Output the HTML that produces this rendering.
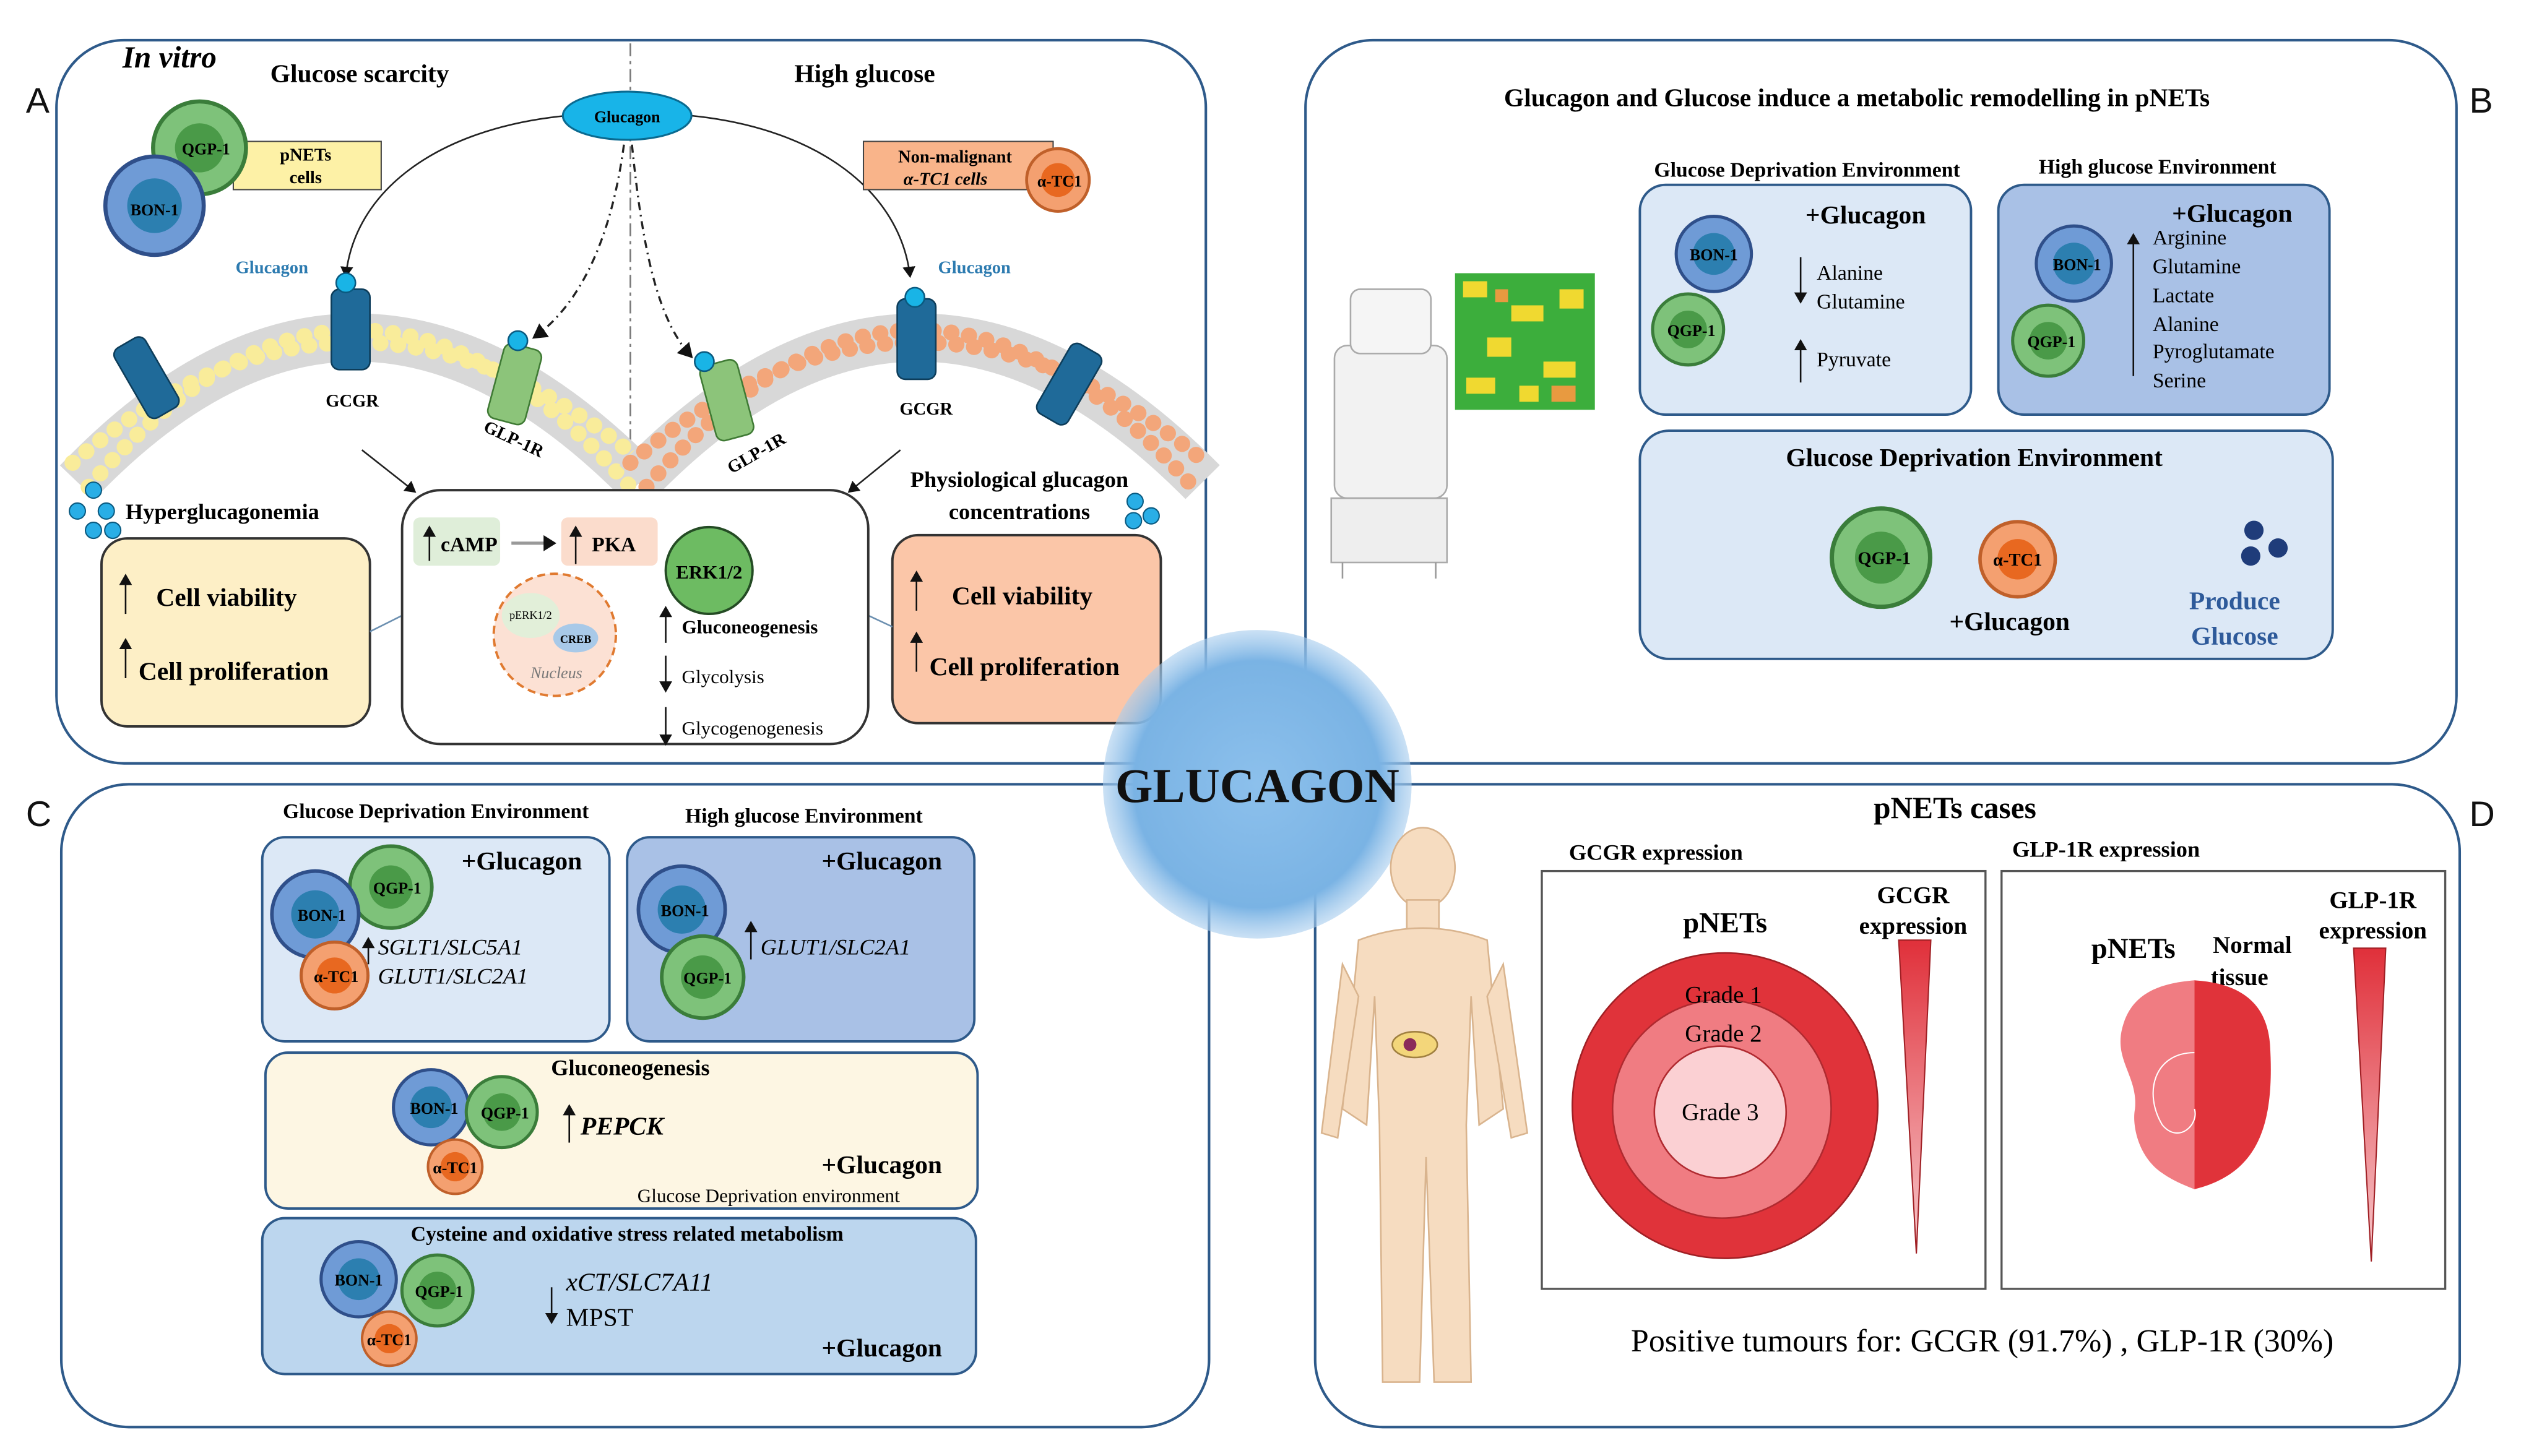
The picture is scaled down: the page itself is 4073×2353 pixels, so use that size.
<!DOCTYPE html>
<html><head><meta charset="utf-8"><style>
html,body{margin:0;padding:0;background:#fff;}
svg{display:block;}
text{font-family:"Liberation Serif",serif;}
.b{font-weight:bold;}
</style></head><body>
<svg width="4073" height="2353" viewBox="0 0 1568 906" xmlns="http://www.w3.org/2000/svg">
<defs>
<radialGradient id="cg" cx="50%" cy="50%" r="50%"><stop offset="0" stop-color="#8cc0ec"/><stop offset="0.8" stop-color="#7ab3e4"/><stop offset="1" stop-color="#a8cdee" stop-opacity="0.6"/></radialGradient>
<marker id="ar" markerWidth="8" markerHeight="8" refX="6" refY="4" orient="auto"><path d="M0,0 L7,4 L0,8z" fill="#111"/></marker>
<linearGradient id="tr" x1="0" y1="0" x2="0" y2="1"><stop offset="0" stop-color="#e0303a"/><stop offset="1" stop-color="#f7c9cc"/></linearGradient>
<g id="cg1"><circle r="17" fill="#7ec27a" stroke="#3a7d3a" stroke-width="1.5"/><circle r="9" fill="#4a9a48"/></g>
<g id="cb1"><circle r="18" fill="#6f9bd6" stroke="#2f4f8a" stroke-width="1.5"/><circle r="10" fill="#2c7fb0"/></g>
<g id="co1"><circle r="13" fill="#f4a070" stroke="#c0602a" stroke-width="1.2"/><circle r="7" fill="#e86820"/></g>
</defs>
<rect width="1568" height="906" fill="#fff"/>

<!-- Panels -->
<g fill="none" stroke="#2e5a8a" stroke-width="1.6">
<rect x="35" y="25" width="715" height="450" rx="42"/>
<rect x="812" y="25" width="716" height="450" rx="42"/>
<rect x="38" y="488" width="714" height="400" rx="42"/>
<rect x="818" y="488" width="712" height="400" rx="42"/>
</g>
<g font-family="Liberation Sans,sans-serif" font-size="22" fill="#111">
<text x="16" y="70" style="font-family:'Liberation Sans',sans-serif">A</text>
<text x="1536" y="70" style="font-family:'Liberation Sans',sans-serif">B</text>
<text x="16" y="514" style="font-family:'Liberation Sans',sans-serif">C</text>
<text x="1536" y="514" style="font-family:'Liberation Sans',sans-serif">D</text>
</g>

<!-- Panel A -->
<text x="76" y="42" class="b" font-size="19" font-style="italic">In vitro</text>
<text x="168" y="51" class="b" font-size="16">Glucose scarcity</text>
<text x="494" y="51" class="b" font-size="16">High glucose</text>
<line x1="392" y1="27" x2="392" y2="300" stroke="#777" stroke-width="1" stroke-dasharray="8,3,2,3"/>
<path d="M352,72 C270,80 220,120 215,172" fill="none" stroke="#222" stroke-width="1" marker-end="url(#ar)"/>
<path d="M430,72 C510,80 560,120 566,172" fill="none" stroke="#222" stroke-width="1" marker-end="url(#ar)"/>
<path d="M388,90 C380,150 360,190 332,210" fill="none" stroke="#222" stroke-width="1.3" stroke-dasharray="5,3,1,3" marker-end="url(#ar)"/>
<path d="M393,90 C400,160 410,200 430,222" fill="none" stroke="#222" stroke-width="1.3" stroke-dasharray="5,3,1,3" marker-end="url(#ar)"/>
<ellipse cx="390" cy="72" rx="40" ry="15" fill="#18b4e8" stroke="#0a6a90" stroke-width="1.2"/>
<text x="390" y="76" font-size="10" text-anchor="middle" class="b">Glucagon</text>

<!-- membranes -->
<path d="M48,300 Q220,120 398,300" fill="none" stroke="#d8d8d8" stroke-width="30"/>
<path d="M55,303 Q220,108 392,303" fill="none" stroke="#f9ec9a" stroke-width="10" stroke-dasharray="0.1,11" stroke-linecap="round" style="stroke-width:10"/>
<path d="M45,288 Q220,138 400,288" fill="none" stroke="#f9ec9a" stroke-width="10" stroke-dasharray="0.1,11" stroke-linecap="round"/>
<path d="M396,300 Q570,120 748,300" fill="none" stroke="#d8d8d8" stroke-width="30"/>
<path d="M402,303 Q570,108 742,303" fill="none" stroke="#f3a67a" stroke-width="10" stroke-dasharray="0.1,11" stroke-linecap="round"/>
<path d="M392,288 Q570,138 750,288" fill="none" stroke="#f3a67a" stroke-width="10" stroke-dasharray="0.1,11" stroke-linecap="round"/>
<!-- receptors -->
<g fill="#1f6a99" stroke="#0d3d5a" stroke-width="1">
<rect x="80" y="210" width="22" height="50" rx="5" transform="rotate(-30 91 235)"/>
<rect x="206" y="180" width="24" height="50" rx="5"/>
<rect x="558" y="186" width="24" height="50" rx="5"/>
<rect x="654" y="214" width="22" height="50" rx="5" transform="rotate(30 665 239)"/>
</g>
<g fill="#8cc47a" stroke="#3f7a34" stroke-width="1">
<rect x="308" y="215" width="24" height="48" rx="5" transform="rotate(15 320 239)"/>
<rect x="440" y="225" width="24" height="48" rx="5" transform="rotate(-15 452 249)"/>
</g>
<g fill="#19b4e6" stroke="#0a5a80"><circle cx="215" cy="176" r="6"/><circle cx="322" cy="212" r="6"/><circle cx="438" cy="225" r="6"/><circle cx="569" cy="185" r="6"/></g>
<text x="169" y="170" font-size="11" fill="#2d7bb0" class="b" text-anchor="middle">Glucagon</text>
<text x="606" y="170" font-size="11" fill="#2d7bb0" class="b" text-anchor="middle">Glucagon</text>
<text x="219" y="253" font-size="11" class="b" text-anchor="middle">GCGR</text>
<text x="576" y="258" font-size="11" class="b" text-anchor="middle">GCGR</text>
<text x="300" y="268" font-size="11" class="b" transform="rotate(25 300 268)">GLP-1R</text>
<text x="455" y="295" font-size="11" class="b" transform="rotate(-30 455 295)">GLP-1R</text>

<!-- cells top-left -->
<rect x="145" y="88" width="92" height="30" fill="#fdf1a6" stroke="#444" stroke-width="0.8"/>
<text x="190" y="100" font-size="11" class="b" text-anchor="middle">pNETs</text>
<text x="190" y="114" font-size="11" class="b" text-anchor="middle">cells</text>
<g transform="translate(124,92) scale(1.7)"><use href="#cg1"/></g>
<text x="128" y="96" font-size="10" class="b" text-anchor="middle">QGP-1</text>
<g transform="translate(96,128) scale(1.7)"><use href="#cb1"/></g>
<text x="96" y="134" font-size="10" class="b" text-anchor="middle">BON-1</text>
<rect x="537" y="88" width="118" height="30" fill="#f9b48a" stroke="#444" stroke-width="0.8"/>
<text x="594" y="101" font-size="11" class="b" text-anchor="middle">Non-malignant</text>
<text x="588" y="115" font-size="11" class="b" text-anchor="middle" font-style="italic">α-TC1 cells</text>
<g transform="translate(658,112) scale(1.5)"><use href="#co1"/></g>
<text x="659" y="116" font-size="10" class="b" text-anchor="middle">α-TC1</text>

<!-- dots -->
<g fill="#29aee6" stroke="#0a5a80" stroke-width="0.8"><circle cx="58" cy="305" r="5"/><circle cx="48" cy="318" r="5"/><circle cx="66" cy="318" r="5"/><circle cx="58" cy="330" r="5"/><circle cx="70" cy="330" r="5"/><circle cx="706" cy="312" r="5"/><circle cx="716" cy="321" r="5"/><circle cx="705" cy="324" r="5"/></g>
<text x="78" y="323" font-size="14" class="b">Hyperglucagonemia</text>
<text x="634" y="303" font-size="14" class="b" text-anchor="middle">Physiological glucagon</text>
<text x="634" y="323" font-size="14" class="b" text-anchor="middle">concentrations</text>
<line x1="225" y1="280" x2="258" y2="306" stroke="#222" stroke-width="1" marker-end="url(#ar)"/>
<line x1="560" y1="280" x2="528" y2="306" stroke="#222" stroke-width="1" marker-end="url(#ar)"/>

<rect x="63" y="335" width="167" height="117" rx="16" fill="#fdefc6" stroke="#333" stroke-width="1.5"/>
<line x1="78" y1="382" x2="78" y2="358" stroke="#111" stroke-width="1" marker-end="url(#ar)"/>
<text x="97" y="377" font-size="16" class="b">Cell viability</text>
<line x1="78" y1="422" x2="78" y2="398" stroke="#111" stroke-width="1" marker-end="url(#ar)"/>
<text x="86" y="423" font-size="16" class="b">Cell proliferation</text>
<line x1="230" y1="393" x2="250" y2="383" stroke="#6b8fb0"/>
<rect x="555" y="333" width="167" height="117" rx="16" fill="#fbc6a8" stroke="#333" stroke-width="1.5"/>
<line x1="570" y1="380" x2="570" y2="356" stroke="#111" stroke-width="1" marker-end="url(#ar)"/>
<text x="592" y="376" font-size="16" class="b">Cell viability</text>
<line x1="570" y1="418" x2="570" y2="394" stroke="#111" stroke-width="1" marker-end="url(#ar)"/>
<text x="578" y="420" font-size="16" class="b">Cell proliferation</text>
<line x1="540" y1="383" x2="555" y2="390" stroke="#6b8fb0"/>

<rect x="250" y="305" width="290" height="158" rx="24" fill="#fff" stroke="#333" stroke-width="1.5"/>
<rect x="257" y="322" width="54" height="30" rx="4" fill="#dfeed9"/>
<line x1="267" y1="349" x2="267" y2="328" stroke="#111" marker-end="url(#ar)"/>
<text x="274" y="343" font-size="13" class="b">cAMP</text>
<line x1="318" y1="338" x2="340" y2="338" stroke="#999" stroke-width="2"/><path d="M338,333 L346,338 L338,343z" fill="#111"/>
<rect x="349" y="322" width="60" height="30" rx="4" fill="#fbdccc"/>
<line x1="358" y1="351" x2="358" y2="328" stroke="#111" marker-end="url(#ar)"/>
<text x="368" y="343" font-size="13" class="b">PKA</text>
<circle cx="441" cy="355" r="27" fill="#6dbb62" stroke="#244b24" stroke-width="1.5" transform="translate(0,0)"/>
<text x="441" y="360" font-size="12" class="b" text-anchor="middle">ERK1/2</text>
<ellipse cx="345" cy="395" rx="38" ry="38" fill="#fce1d4" stroke="#e07a30" stroke-width="1.5" stroke-dasharray="5,3"/>
<ellipse cx="330" cy="383" rx="18" ry="14" fill="#e2efd9"/>
<text x="330" y="385" font-size="7" text-anchor="middle">pERK1/2</text>
<ellipse cx="358" cy="397" rx="14" ry="9" fill="#a8c9e8"/>
<text x="358" y="400" font-size="7" class="b" text-anchor="middle">CREB</text>
<text x="346" y="422" font-size="10" font-style="italic" fill="#777" text-anchor="middle">Nucleus</text>
<line x1="414" y1="400" x2="414" y2="378" stroke="#111" marker-end="url(#ar)"/>
<line x1="414" y1="408" x2="414" y2="430" stroke="#111" marker-end="url(#ar)"/>
<line x1="414" y1="440" x2="414" y2="463" stroke="#111" marker-end="url(#ar)"/>
<text x="424" y="394" font-size="12" class="b">Gluconeogenesis</text>
<text x="424" y="425" font-size="12">Glycolysis</text>
<text x="424" y="457" font-size="12">Glycogenogenesis</text>

<!-- Panel B -->
<text x="1155" y="66" font-size="16" class="b" text-anchor="middle">Glucagon and Glucose induce a metabolic remodelling in pNETs</text>
<text x="1124" y="110" font-size="13" class="b" text-anchor="middle">Glucose Deprivation Environment</text>
<text x="1342" y="108" font-size="13" class="b" text-anchor="middle">High glucose Environment</text>
<rect x="1020" y="115" width="206" height="143" rx="16" fill="#dce8f6" stroke="#2e5a8a" stroke-width="1.5"/>
<rect x="1243" y="115" width="206" height="143" rx="16" fill="#a9c1e6" stroke="#2e5a8a" stroke-width="1.5"/>
<rect x="1020" y="268" width="431" height="142" rx="18" fill="#dce8f6" stroke="#2e5a8a" stroke-width="1.5"/>
<text x="1123" y="139" font-size="16" class="b">+Glucagon</text>
<g transform="translate(1066,158) scale(1.3)"><use href="#cb1"/></g><text x="1066" y="162" font-size="10" class="b" text-anchor="middle">BON-1</text>
<g transform="translate(1050,205) scale(1.3)"><use href="#cg1"/></g><text x="1052" y="209" font-size="10" class="b" text-anchor="middle">QGP-1</text>
<line x1="1120" y1="160" x2="1120" y2="188" stroke="#111" marker-end="url(#ar)"/>
<text x="1130" y="174" font-size="13">Alanine</text>
<text x="1130" y="192" font-size="13">Glutamine</text>
<line x1="1120" y1="238" x2="1120" y2="212" stroke="#111" marker-end="url(#ar)"/>
<text x="1130" y="228" font-size="13">Pyruvate</text>
<text x="1351" y="138" font-size="16" class="b">+Glucagon</text>
<g transform="translate(1290,164) scale(1.3)"><use href="#cb1"/></g><text x="1292" y="168" font-size="10" class="b" text-anchor="middle">BON-1</text>
<g transform="translate(1274,212) scale(1.3)"><use href="#cg1"/></g><text x="1276" y="216" font-size="10" class="b" text-anchor="middle">QGP-1</text>
<line x1="1327" y1="234" x2="1327" y2="146" stroke="#111" marker-end="url(#ar)"/>
<g font-size="13"><text x="1339" y="152">Arginine</text><text x="1339" y="170">Glutamine</text><text x="1339" y="188">Lactate</text><text x="1339" y="206">Alanine</text><text x="1339" y="223">Pyroglutamate</text><text x="1339" y="241">Serine</text></g>
<text x="1228" y="290" font-size="16" class="b" text-anchor="middle">Glucose Deprivation Environment</text>
<g transform="translate(1170,347) scale(1.8)"><use href="#cg1"/></g><text x="1172" y="351" font-size="11" class="b" text-anchor="middle">QGP-1</text>
<g transform="translate(1255,348) scale(1.8)"><use href="#co1"/></g><text x="1255" y="352" font-size="11" class="b" text-anchor="middle">α-TC1</text>
<text x="1250" y="392" font-size="16" class="b" text-anchor="middle">+Glucagon</text>
<g fill="#1f3c7a"><circle cx="1402" cy="330" r="6"/><circle cx="1400" cy="346" r="6"/><circle cx="1417" cy="341" r="6"/></g>
<text x="1390" y="379" font-size="16" class="b" fill="#2e5a9a" text-anchor="middle">Produce</text>
<text x="1390" y="401" font-size="16" class="b" fill="#2e5a9a" text-anchor="middle">Glucose</text>
<!-- machine -->
<rect x="830" y="215" width="70" height="95" rx="8" fill="#f2f2f2" stroke="#aaa"/>
<rect x="840" y="180" width="50" height="40" rx="6" fill="#f5f5f5" stroke="#aaa"/>
<rect x="828" y="310" width="72" height="40" fill="#eee" stroke="#aaa"/>
<g stroke="#999"><line x1="835" y1="350" x2="835" y2="360"/><line x1="893" y1="350" x2="893" y2="360"/></g>
<rect x="905" y="170" width="87" height="85" fill="#3cae3c"/>
<g fill="#f0d930"><rect x="910" y="175" width="15" height="10"/><rect x="940" y="190" width="20" height="10"/><rect x="925" y="210" width="15" height="12"/><rect x="960" y="225" width="20" height="10"/><rect x="970" y="180" width="15" height="12"/><rect x="912" y="235" width="18" height="10"/><rect x="945" y="240" width="12" height="10"/></g>
<g fill="#e89a40"><rect x="965" y="240" width="15" height="10"/><rect x="930" y="180" width="8" height="8"/></g>

<!-- Central circle -->
<circle cx="782" cy="488" r="96" fill="url(#cg)"/>
<text x="782" y="499" font-size="30" class="b" text-anchor="middle" fill="#111">GLUCAGON</text>

<!-- Panel C -->
<text x="271" y="509" font-size="13" class="b" text-anchor="middle">Glucose Deprivation Environment</text>
<text x="500" y="512" font-size="13" class="b" text-anchor="middle">High glucose Environment</text>
<rect x="163" y="521" width="216" height="127" rx="14" fill="#dce8f6" stroke="#2e5a8a" stroke-width="1.5"/>
<rect x="390" y="521" width="216" height="127" rx="14" fill="#a9c1e6" stroke="#2e5a8a" stroke-width="1.5"/>
<rect x="165" y="655" width="443" height="97" rx="14" fill="#fdf6e3" stroke="#2e5a8a" stroke-width="1.5"/>
<rect x="163" y="758" width="444" height="97" rx="14" fill="#bcd6ee" stroke="#2e5a8a" stroke-width="1.5"/>
<text x="287" y="541" font-size="16" class="b">+Glucagon</text>
<g transform="translate(243,552) scale(1.5)"><use href="#cg1"/></g><text x="247" y="556" font-size="10" class="b" text-anchor="middle">QGP-1</text>
<g transform="translate(196,569) scale(1.5)"><use href="#cb1"/></g><text x="200" y="573" font-size="10" class="b" text-anchor="middle">BON-1</text>
<g transform="translate(208,607) scale(1.6)"><use href="#co1"/></g><text x="209" y="611" font-size="10" class="b" text-anchor="middle">α-TC1</text>
<line x1="229" y1="600" x2="229" y2="584" stroke="#111" marker-end="url(#ar)"/>
<text x="235" y="594" font-size="14" font-style="italic">SGLT1/SLC5A1</text>
<text x="235" y="612" font-size="14" font-style="italic">GLUT1/SLC2A1</text>
<text x="511" y="541" font-size="16" class="b">+Glucagon</text>
<g transform="translate(424,566) scale(1.5)"><use href="#cb1"/></g><text x="426" y="570" font-size="10" class="b" text-anchor="middle">BON-1</text>
<g transform="translate(437,608) scale(1.5)"><use href="#cg1"/></g><text x="440" y="612" font-size="10" class="b" text-anchor="middle">QGP-1</text>
<line x1="467" y1="597" x2="467" y2="574" stroke="#111" marker-end="url(#ar)"/>
<text x="473" y="594" font-size="14" font-style="italic">GLUT1/SLC2A1</text>
<text x="392" y="669" font-size="14" class="b" text-anchor="middle">Gluconeogenesis</text>
<g transform="translate(268,689) scale(1.3)"><use href="#cb1"/></g><text x="270" y="693" font-size="10" class="b" text-anchor="middle">BON-1</text>
<g transform="translate(312,692) scale(1.3)"><use href="#cg1"/></g><text x="314" y="696" font-size="10" class="b" text-anchor="middle">QGP-1</text>
<g transform="translate(283,726) scale(1.3)"><use href="#co1"/></g><text x="283" y="730" font-size="10" class="b" text-anchor="middle">α-TC1</text>
<line x1="354" y1="711" x2="354" y2="688" stroke="#111" marker-end="url(#ar)"/>
<text x="361" y="706" font-size="16" class="b" font-style="italic">PEPCK</text>
<text x="511" y="730" font-size="16" class="b">+Glucagon</text>
<text x="478" y="748" font-size="12" text-anchor="middle">Glucose Deprivation environment</text>
<text x="390" y="772" font-size="13" class="b" text-anchor="middle">Cysteine and oxidative stress related metabolism</text>
<g transform="translate(223,796) scale(1.3)"><use href="#cb1"/></g><text x="223" y="800" font-size="10" class="b" text-anchor="middle">BON-1</text>
<g transform="translate(272,803) scale(1.3)"><use href="#cg1"/></g><text x="273" y="807" font-size="10" class="b" text-anchor="middle">QGP-1</text>
<g transform="translate(242,833) scale(1.3)"><use href="#co1"/></g><text x="242" y="837" font-size="10" class="b" text-anchor="middle">α-TC1</text>
<line x1="343" y1="801" x2="343" y2="823" stroke="#111" marker-end="url(#ar)"/>
<text x="352" y="803" font-size="16" font-style="italic">xCT/SLC7A11</text>
<text x="352" y="825" font-size="16">MPST</text>
<text x="511" y="844" font-size="16" class="b">+Glucagon</text>

<!-- Panel D -->
<text x="1216" y="509" font-size="19" class="b" text-anchor="middle">pNETs cases</text>
<text x="1030" y="535" font-size="14" class="b" text-anchor="middle">GCGR expression</text>
<text x="1310" y="533" font-size="14" class="b" text-anchor="middle">GLP-1R expression</text>
<!-- body -->
<g fill="#f6dcc0" stroke="#d9b48e" stroke-width="1">
<ellipse cx="885" cy="540" rx="20" ry="25"/>
<rect x="875" y="560" width="20" height="20"/>
<path d="M845,585 Q885,570 925,585 L935,690 L920,700 L915,620 L912,700 L915,860 L892,860 L887,720 L883,860 L860,860 L858,700 L855,620 L850,700 L835,690 Z"/>
<path d="M835,600 L822,705 L832,708 L845,620Z"/>
<path d="M935,600 L950,705 L940,708 L925,620Z"/>
</g>
<ellipse cx="880" cy="650" rx="14" ry="8" fill="#f3d67a" stroke="#a08040"/>
<circle cx="877" cy="650" r="4" fill="#8a2a5a"/>
<rect x="959" y="542" width="276" height="260" fill="#fff" stroke="#555" stroke-width="1.3"/>
<rect x="1245" y="542" width="276" height="260" fill="#fff" stroke="#555" stroke-width="1.3"/>
<text x="1073" y="580" font-size="18" class="b" text-anchor="middle">pNETs</text>
<circle cx="1073" cy="688" r="95" fill="#e0333a" stroke="#a02025"/>
<circle cx="1071" cy="690" r="68" fill="#f07c82" stroke="#b02a30"/>
<circle cx="1070" cy="692" r="41" fill="#fbd0d3" stroke="#b02a30"/>
<text x="1072" y="624" font-size="15" text-anchor="middle">Grade 1</text>
<text x="1072" y="648" font-size="15" text-anchor="middle">Grade 2</text>
<text x="1070" y="697" font-size="15" text-anchor="middle">Grade 3</text>
<text x="1190" y="562" font-size="15" class="b" text-anchor="middle">GCGR</text>
<text x="1190" y="581" font-size="15" class="b" text-anchor="middle">expression</text>
<path d="M1181,585 L1201,585 L1192,780Z" fill="url(#tr)" stroke="#a02025" stroke-width="0.8"/>
<text x="1327" y="596" font-size="18" class="b" text-anchor="middle">pNETs</text>
<text x="1401" y="593" font-size="15" class="b" text-anchor="middle">Normal</text>
<text x="1393" y="613" font-size="15" class="b" text-anchor="middle">tissue</text>
<path d="M1365,610 C1340,612 1325,620 1320,640 C1315,660 1330,670 1328,690 C1326,700 1330,720 1345,730 C1352,735 1360,738 1365,740 Z" fill="#f07c82"/>
<path d="M1365,610 C1395,612 1410,625 1412,650 C1415,700 1405,730 1365,740 Z" fill="#e0333a"/>
<path d="M1365,655 C1340,655 1333,680 1345,700 C1355,712 1368,700 1365,690" fill="none" stroke="#fff" stroke-width="0.8"/>
<text x="1476" y="565" font-size="15" class="b" text-anchor="middle">GLP-1R</text>
<text x="1476" y="584" font-size="15" class="b" text-anchor="middle">expression</text>
<path d="M1464,590 L1484,590 L1475,785Z" fill="url(#tr)" stroke="#a02025" stroke-width="0.8"/>
<text x="1233" y="841" font-size="20" text-anchor="middle">Positive tumours for: GCGR (91.7%) , GLP-1R (30%)</text>
</svg>
</body></html>
